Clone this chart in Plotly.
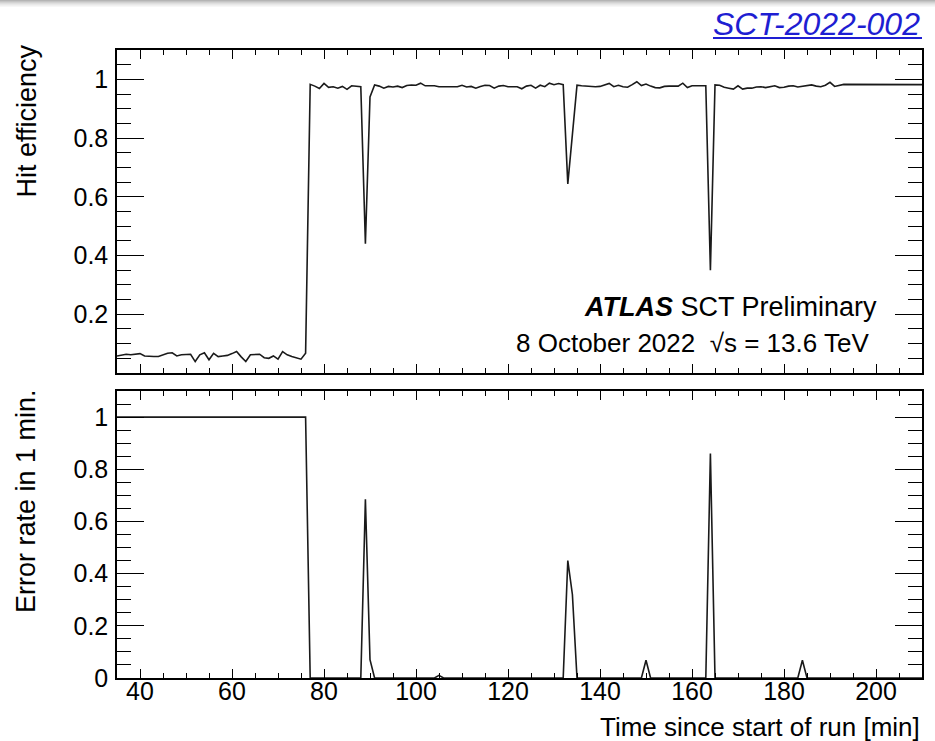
import plotly.graph_objects as go

W, H = 935, 741

# Time since start of run [min]
time_min = [
    35, 36, 37, 38, 39, 40, 41, 42, 43, 44, 45, 46, 47, 48, 49, 50, 51, 52, 53, 54,
    55, 56, 57, 58, 59, 60, 61, 62, 63, 64, 65, 66, 67, 68, 69, 70, 71, 72, 73, 74,
    75, 76, 77, 78, 79, 80, 81, 82, 83, 84, 85, 86, 87, 88, 89, 90, 91, 92, 93, 94,
    95, 96, 97, 98, 99, 100, 101, 102, 103, 104, 105, 106, 107, 108, 109, 110, 111, 112, 113, 114,
    115, 116, 117, 118, 119, 120, 121, 122, 123, 124, 125, 126, 127, 128, 129, 130, 131, 132, 133, 134,
    135, 136, 137, 138, 139, 140, 141, 142, 143, 144, 145, 146, 147, 148, 149, 150, 151, 152, 153, 154,
    155, 156, 157, 158, 159, 160, 161, 162, 163, 164, 165, 166, 167, 168, 169, 170, 171, 172, 173, 174,
    175, 176, 177, 178, 179, 180, 181, 182, 183, 184, 185, 186, 187, 188, 189, 190, 191, 192, 193, 210,
]

hit_efficiency = [
    0.058, 0.062, 0.064, 0.062, 0.063, 0.066, 0.058, 0.056, 0.056, 0.056,
    0.062, 0.067, 0.069, 0.058, 0.062, 0.064, 0.064, 0.039, 0.062, 0.069,
    0.045, 0.067, 0.056, 0.058, 0.060, 0.066, 0.073, 0.055, 0.039, 0.062,
    0.064, 0.064, 0.052, 0.050, 0.058, 0.047, 0.073, 0.062, 0.056, 0.052,
    0.047, 0.067,
    0.983, 0.977, 0.969, 0.986, 0.973,
    0.975, 0.970, 0.976, 0.966, 0.978, 0.977, 0.975,
    0.44, 0.94,
    0.981, 0.977, 0.970, 0.976, 0.974, 0.977, 0.972, 0.979, 0.981, 0.980,
    0.987, 0.978, 0.978, 0.978, 0.975, 0.975, 0.975, 0.976, 0.975, 0.980,
    0.974, 0.976, 0.970, 0.976, 0.980, 0.979, 0.970, 0.977, 0.979, 0.975,
    0.976, 0.975, 0.968, 0.977, 0.980, 0.970, 0.980, 0.975, 0.987, 0.982,
    0.986, 0.982,
    0.644, 0.82,
    0.980, 0.978, 0.977, 0.975, 0.975, 0.976, 0.980, 0.986, 0.975, 0.980,
    0.975, 0.973, 0.982, 0.992, 0.979, 0.984, 0.977, 0.972, 0.971, 0.976,
    0.977, 0.977, 0.977, 0.987, 0.972, 0.978, 0.978, 0.978, 0.978,
    0.35,
    0.981, 0.980, 0.973, 0.970, 0.967, 0.978, 0.967, 0.970, 0.970, 0.974,
    0.975, 0.972, 0.976, 0.978, 0.972, 0.973, 0.977, 0.978, 0.974, 0.976,
    0.978, 0.981, 0.977, 0.975, 0.980, 0.990, 0.976, 0.980, 0.983,
    0.982,
]

error_rate = [
    1, 1, 1, 1, 1, 1, 1, 1, 1, 1, 1, 1, 1, 1, 1, 1, 1, 1, 1, 1,
    1, 1, 1, 1, 1, 1, 1, 1, 1, 1, 1, 1, 1, 1, 1, 1, 1, 1, 1, 1,
    1, 1,
    0, 0, 0, 0, 0, 0, 0, 0, 0, 0, 0, 0,
    0.685, 0.07,
    0, 0, 0, 0, 0, 0, 0, 0, 0, 0, 0, 0, 0, 0,
    0.01,
    0, 0, 0, 0, 0, 0, 0, 0, 0, 0, 0, 0, 0, 0, 0, 0, 0, 0, 0, 0,
    0, 0, 0, 0, 0, 0, 0,
    0.45, 0.32,
    0, 0, 0, 0, 0, 0, 0, 0, 0, 0, 0, 0, 0, 0, 0,
    0.068,
    0, 0, 0, 0, 0, 0, 0, 0, 0, 0, 0, 0, 0,
    0.86,
    0, 0, 0, 0, 0, 0, 0, 0, 0, 0, 0, 0, 0, 0, 0, 0, 0, 0, 0,
    0.068,
    0, 0, 0, 0, 0, 0, 0, 0, 0,
    0,
]

x_ticks = [40, 60, 80, 100, 120, 140, 160, 180, 200]
y_ticks_top = [0.2, 0.4, 0.6, 0.8, 1.0]
y_ticks_top_text = ["0.2", "0.4", "0.6", "0.8", "1"]
y_ticks_bot = [0, 0.2, 0.4, 0.6, 0.8, 1.0]
y_ticks_bot_text = ["0", "0.2", "0.4", "0.6", "0.8", "1"]


def px(x):
    return x / W


def py(y):
    return 1 - y / H


FONT = "Liberation Sans, Arial, sans-serif"
LINE = dict(color="#1a1a1a", width=1.6)

fig = go.Figure()
fig.add_trace(go.Scatter(x=time_min, y=hit_efficiency, mode="lines", line=LINE,
                         xaxis="x", yaxis="y", showlegend=False))
fig.add_trace(go.Scatter(x=time_min, y=error_rate, mode="lines", line=LINE,
                         xaxis="x2", yaxis="y2", showlegend=False))

xdom = [px(117), px(922)]
common_x = dict(range=[35, 210], domain=xdom, showline=True, linecolor="black",
                linewidth=1.5, mirror="ticks", ticks="inside", ticklen=9,
                tickcolor="black", tickwidth=1.3, tickvals=x_ticks, showgrid=False,
                zeroline=False, automargin=False,
                minor=dict(dtick=5, tick0=0, ticks="inside", ticklen=5,
                           tickcolor="black", tickwidth=1.2, showgrid=False),
                tickfont=dict(family=FONT, size=25, color="black"))
common_y = dict(range=[0, 1.1], showline=True, linecolor="black", linewidth=1.5,
                mirror="ticks", ticks="inside", ticklen=27, tickcolor="black",
                tickwidth=1.3, showgrid=False, zeroline=False, automargin=False,
                minor=dict(dtick=0.05, tick0=0, ticks="inside", ticklen=14,
                           tickcolor="black", tickwidth=1.2, showgrid=False),
                tickfont=dict(family=FONT, size=25, color="black"),
                ticklabelstandoff=2)

fig.update_layout(
    width=W, height=H,
    margin=dict(l=0, r=0, t=0, b=0, autoexpand=False),
    paper_bgcolor="white", plot_bgcolor="white",
    xaxis=dict(common_x, anchor="y", showticklabels=False),
    yaxis=dict(common_y, anchor="x", domain=[py(373), py(50)],
               tickvals=y_ticks_top, ticktext=y_ticks_top_text),
    xaxis2=dict(common_x, anchor="y2", showticklabels=True, ticklabelstandoff=-10),
    yaxis2=dict(common_y, anchor="x2", domain=[py(678), py(391)],
                tickvals=y_ticks_bot, ticktext=y_ticks_bot_text),
)

# grey gradient band at the very top of the page
greys = ["#b4b4b4", "#c4c4c4", "#d2d2d2", "#dedede", "#e8e8e8", "#f0f0f0", "#f7f7f7"]
for i, g in enumerate(greys):
    fig.add_shape(type="rect", xref="paper", yref="paper",
                  x0=0, x1=1, y0=py(i + 1), y1=py(i), line=dict(width=0),
                  fillcolor=g, layer="below")

ann = [
    dict(text="<i>SCT-2022-002</i>", x=px(922), y=py(24), xanchor="right",
         yanchor="middle", font=dict(family=FONT, size=32, color="#1e1ed2")),
    dict(text="<b><i>ATLAS</i></b> SCT Preliminary", x=px(879), y=py(307),
         xanchor="right", yanchor="middle",
         font=dict(family=FONT, size=27, color="black")),
    dict(text="8 October 2022  √s = 13.6 TeV", x=px(871), y=py(343),
         xanchor="right", yanchor="middle",
         font=dict(family=FONT, size=26, color="black")),
    dict(text="Hit efficiency", x=px(26), y=py(43), xanchor="center",
         yanchor="top", textangle=-90,
         font=dict(family=FONT, size=27, color="black")),
    dict(text="Error rate in 1 min.", x=px(26), y=py(387), xanchor="center",
         yanchor="top", textangle=-90,
         font=dict(family=FONT, size=27, color="black")),
    dict(text="Time since start of run [min]", x=px(922), y=py(727),
         xanchor="right", yanchor="middle",
         font=dict(family=FONT, size=26, color="black")),
]
for a in ann:
    fig.add_annotation(xref="paper", yref="paper", showarrow=False, **a)

# underline of the link
fig.add_shape(type="line", xref="paper", yref="paper", x0=px(713), x1=px(922),
              y0=py(38), y1=py(38), line=dict(color="#1e1ed2", width=2))

fig.write_html("out.html")
